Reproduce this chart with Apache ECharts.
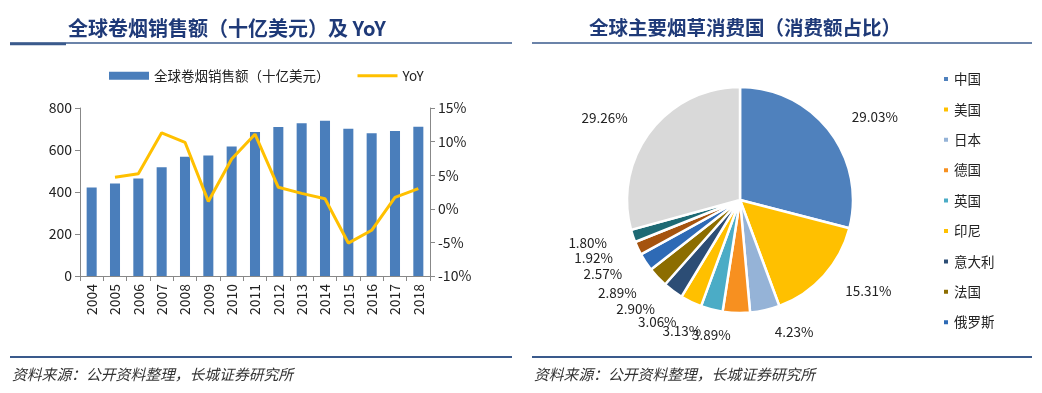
<!DOCTYPE html>
<html><head><meta charset="utf-8">
<script src="https://cdn.jsdelivr.net/npm/echarts@6/dist/echarts.min.js"></script>
<style>html,body{margin:0;padding:0;background:#fff}#c{width:1042px;height:393px}</style>
</head><body><div id="c"></div>
<script>
const years = ['2004','2005','2006','2007','2008','2009','2010','2011','2012','2013','2014','2015','2016','2017','2018'];
const sales = [421, 440, 464, 518, 568, 574, 617, 686, 710, 727, 739, 701, 680, 691, 711];
const yoy = [null, 4.7, 5.2, 11.3, 9.9, 1.1, 7.4, 11.1, 3.2, 2.3, 1.5, -5.1, -3.2, 1.7, 3.0];
const countries = ['中国','美国','日本','德国','英国','印尼','意大利','法国','俄罗斯','其他国家1','其他国家2','其他'];
const shares = [29.03, 15.31, 4.23, 3.89, 3.13, 3.06, 2.90, 2.89, 2.57, 1.92, 1.80, 29.26];
const legendCountries = ['中国','美国','日本','德国','英国','印尼','意大利','法国','俄罗斯'];
const sliceColors = ['#4F81BD','#FFC000','#95B3D7','#F79020','#4BACC6','#FFC000','#2C4D75','#8C6D00','#2E6AB5','#A5530E','#1E6A74','#D9D9D9'];

const font = '"Noto Sans CJK SC", "Open Sans", sans-serif';
const chart = echarts.init(document.getElementById('c'), null, {renderer:'canvas'});
const titleColor = '#1F3A78';
const lineColor = '#3A5A8C';
chart.setOption({
  animation:false,
  textStyle:{fontFamily:font},
  graphic:[
    {type:'text', left:68, top:18, style:{text:'全球卷烟销售额（十亿美元）及 YoY', font:'bold 20px '+font, fill:titleColor}},
    {type:'text', left:589, top:18, style:{text:'全球主要烟草消费国（消费额占比）', font:'bold 19.5px '+font, fill:titleColor}},
    {type:'line', shape:{x1:10,y1:43,x2:512,y2:43}, style:{stroke:lineColor,lineWidth:1.5}},
    {type:'line', shape:{x1:10,y1:44,x2:66,y2:44}, style:{stroke:lineColor,lineWidth:2.5}},
    {type:'line', shape:{x1:532,y1:43,x2:1032,y2:43}, style:{stroke:lineColor,lineWidth:1.5}},
    {type:'line', shape:{x1:10,y1:357,x2:512,y2:357}, style:{stroke:lineColor,lineWidth:2}},
    {type:'line', shape:{x1:532,y1:357,x2:1032,y2:357}, style:{stroke:lineColor,lineWidth:2}},
    {type:'text', left:12, top:367, style:{text:'资料来源：公开资料整理，长城证券研究所', font:'italic 14.8px '+font, fill:'#333'}},
    {type:'text', left:534, top:367, style:{text:'资料来源：公开资料整理，长城证券研究所', font:'italic 14.8px '+font, fill:'#333'}}
  ],
  legend:[
    {data:[{name:'全球卷烟销售额（十亿美元）', icon:'rect'}, {name:'YoY', icon:'path://M0,0 L40,0 L40,3 L0,3 Z', itemStyle:{color:'#FFC000'}}],
     left:104, top:64, itemWidth:40, itemHeight:8, itemGap:28,
     textStyle:{fontSize:13.5, color:'#222'}},
    {data:legendCountries, orient:'vertical', left:937, top:67, icon:'rect', itemWidth:6, itemHeight:6,
     itemGap:16.4, textStyle:{fontSize:13.5, lineHeight:14, color:'#222'}}
  ],
  grid:{left:80, right:612, top:108, bottom:117},
  xAxis:{type:'category', data:years, axisLabel:{rotate:90, fontSize:14, color:'#222', interval:0},
    axisLine:{lineStyle:{color:'#888'}}, axisTick:{show:true, alignWithLabel:false, lineStyle:{color:'#888'}}},
  yAxis:[
    {type:'value', min:0, max:800, interval:200, axisLine:{show:true, lineStyle:{color:'#888'}},
     axisTick:{show:true, lineStyle:{color:'#888'}}, splitLine:{show:false}, axisLabel:{fontSize:14, color:'#222'}},
    {type:'value', min:-10, max:15, interval:5, position:'right', axisLine:{show:true, lineStyle:{color:'#888'}},
     axisTick:{show:true, lineStyle:{color:'#888'}}, splitLine:{show:false},
     axisLabel:{fontSize:14, color:'#222', formatter:'{value}%'}}
  ],
  series:[
    {name:'全球卷烟销售额（十亿美元）', type:'bar', data:sales, barWidth:'43%', itemStyle:{color:'#4A7EBB'}},
    {name:'YoY', type:'line', yAxisIndex:1, data:yoy, symbol:'none', lineStyle:{color:'#FFC000', width:3}, itemStyle:{color:'#FFC000'}},
    {name:'share', type:'pie', center:[740,200], radius:113, startAngle:90, clockwise:true,
     avoidLabelOverlap:false,
     labelLayout:{hideOverlap:false},
     data:countries.map((n,i)=>({name:n, value:shares[i], itemStyle:{color:sliceColors[i]}})),
     itemStyle:{borderColor:'#fff', borderWidth:2.5},
     label:{position:'outside', fontSize:13.5, color:'#222', formatter:p=>p.value.toFixed(2)+'%'},
     labelLine:{show:false, length:22, length2:0}}
  ]
});
</script></body></html>
